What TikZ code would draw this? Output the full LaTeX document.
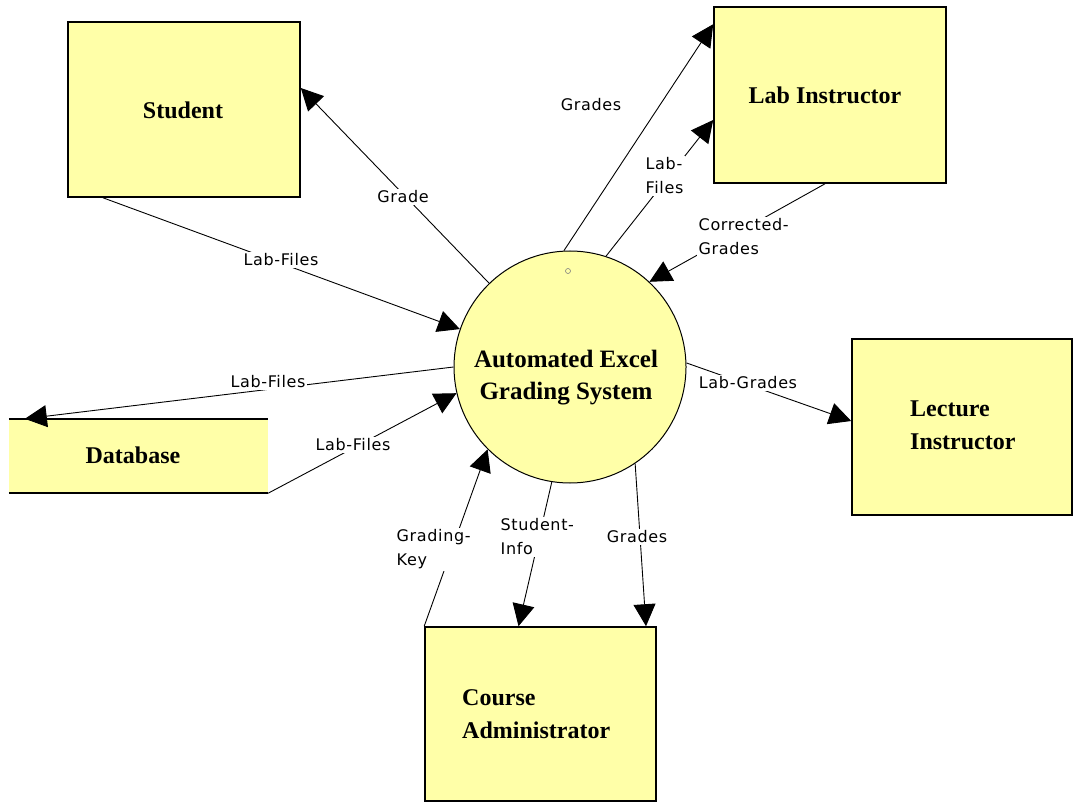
\documentclass[tikz,border=0pt]{standalone}
\usepackage{fontspec}
\setmainfont{Liberation Serif}
\newfontfamily\lblfont[LetterSpace=4]{DejaVu Sans}
\usetikzlibrary{arrows.meta,calc}
\definecolor{boxyellow}{RGB}{255,255,168}
\tikzset{
  entity/.style={draw=black, line width=1.6pt, fill=boxyellow, rectangle, inner sep=0pt},
  ename/.style={font=\fontsize{24}{33}\selectfont\bfseries, inner sep=0pt},
  flow/.style={draw=black, line width=0.9pt, -{Triangle[length=22pt,width=22pt]}},
  flab/.style={font=\lblfont\fontsize{16}{24}\selectfont, fill=white, inner sep=1.5pt, align=left},
}
\begin{document}
\begin{tikzpicture}[x=1pt,y=-1pt]
\useasboundingbox (0,0) rectangle (1073,802);

% external entities
\node[entity, minimum width=232pt, minimum height=175pt] (stud) at (184,109.5) {};
\node[ename] (studT) at (183,110) {Student};

\node[entity, minimum width=232pt, minimum height=176pt] (labi) at (830,95) {};
\node[ename] (labiT) at (825,95) {Lab Instructor};

\node[entity, minimum width=220pt, minimum height=176pt] (lect) at (962,427) {};
\node[ename, align=left, anchor=west] (lectT) at (910,425) {Lecture\\Instructor};

\node[entity, minimum width=231pt, minimum height=174pt] (ca) at (540.5,714) {};
\node[ename, align=left, anchor=west] (caT) at (462,714) {Course\\Administrator};

% data store
\node[fill=boxyellow, rectangle, inner sep=0pt, minimum width=259pt, minimum height=74pt] (db) at (138.5,456) {};
\draw[line width=1.6pt] (db.north west) -- (db.north east);
\draw[line width=1.6pt] (db.south west) -- (db.south east);
\node[ename] (dbT) at (133,455) {Database};

% process
\node[circle, draw=black, line width=1pt, fill=boxyellow, minimum size=232pt, inner sep=0pt] (circ) at (570,367) {};
\node[ename, align=center, font=\fontsize{25}{32}\selectfont\bfseries] (circT) at (566,377.5) {Automated Excel\\Grading System};
\draw[gray, line width=0.6pt] (568,271) circle (2.5);

% flows
\draw[flow] (circ.134) -- ([yshift=21.5pt]stud.east);
\draw[flow] ([xshift=-81pt]stud.south) -- (circ.161);
\draw[flow] (circ.180) -- ([xshift=16pt]db.north west);
\draw[flow] (db.south east) -- (circ.193);
\draw[flow] (ca.north west) -- (circ.225);
\draw[flow] (circ.261) -- ([xshift=-22pt]ca.north);
\draw[flow] (circ.304) -- ([xshift=105.5pt]ca.north);
\draw[flow] (circ.2.5) -- ([yshift=6pt]lect.west);
\draw[flow] ([xshift=-5pt]labi.south) -- (circ.47);
\draw[flow] (circ.72.5) -- ([yshift=-25pt]labi.west);
\draw[flow] (circ.93.5) -- ([yshift=-18pt]labi.north west);

% flow labels
\node[flab] (l1) at (403,197) {Grade};
\node[flab] (l2) at (281,260) {Lab-Files};
\node[flab] (l3) at (268,382) {Lab-Files};
\node[flab] (l4) at (353,445) {Lab-Files};
\node[flab, anchor=west] (l5) at (395,549.5) {Grading-\\Key};
\node[flab, anchor=west] (l6) at (499,537) {Student-\\Info};
\node[flab] (l7) at (637,537) {Grades};
\node[flab] (l8) at (748,383) {Lab-Grades};
\node[flab, anchor=west] (l9) at (697,237) {Corrected-\\Grades};
\node[flab, anchor=west] (l10) at (644,176) {Lab-\\Files};
\node[flab] (l11) at (591,105) {Grades};
\end{tikzpicture}
\end{document}
